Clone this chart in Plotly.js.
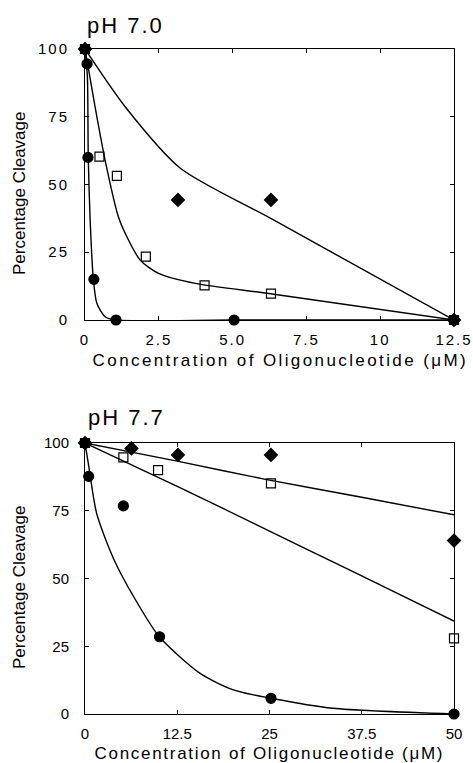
<!DOCTYPE html>
<html>
<head>
<meta charset="utf-8">
<script src="https://cdn.plot.ly/plotly-3.0.1.min.js"></script>
<style>
html,body{margin:0;padding:0;background:#fff;}
#chart{width:473px;height:763px;}
.xtick text,.ytick text{letter-spacing:2px;}
.annotation[data-index="0"] text,.annotation[data-index="1"] text{letter-spacing:2px;}
.annotation[data-index="2"] text{letter-spacing:2.4px;}
.annotation[data-index="3"] text{letter-spacing:1.7px;}
</style>
</head>
<body>
<div id="chart"></div>
<script>
// ---- pH 7.0 panel: measured points ----
var ph70CircleX = [0, 0.07, 0.1, 0.3, 1.05, 5.05, 12.5];
var ph70CircleY = [100, 94.5, 60, 15, 0, 0, 0];
var ph70SquareX = [0, 0.49, 1.08, 2.06, 4.05, 6.3, 12.5];
var ph70SquareY = [100, 60.3, 53.2, 23.4, 12.8, 9.7, 0];
var ph70DiamondX = [0, 3.15, 6.3, 12.5];
var ph70DiamondY = [100, 44.3, 44.3, 0];
// ---- pH 7.0 panel: fitted curves ----
var ph70CircleFitX = [0, 0.08, 0.11, 0.17, 0.28, 0.4, 0.68, 1.02, 5, 12.5];
var ph70CircleFitY = [100, 90, 60.3, 38, 15.5, 6.2, 1.2, 0, 0, 0];
var ph70SquareFitX = [0, 0.34, 0.68, 1.13, 1.36, 1.87, 2.49, 3.74, 6.34, 12.5];
var ph70SquareFitY = [100, 78.7, 59, 38.1, 32, 22.1, 17.2, 13.5, 9.6, 0];
var ph70DiamondFitX = [0, 1.36, 3.23, 6.34, 12.5];
var ph70DiamondFitY = [100, 78.7, 56, 37.2, 0];

// ---- pH 7.7 panel: measured points ----
var ph77CircleX = [0, 0.5, 5.2, 10.1, 25.2, 50];
var ph77CircleY = [100, 87.7, 76.8, 28.5, 5.8, 0];
var ph77SquareX = [0, 5.2, 9.9, 25.2, 50];
var ph77SquareY = [100, 94.7, 90, 85.1, 27.9];
var ph77DiamondX = [0, 6.3, 12.6, 25.2, 50];
var ph77DiamondY = [100, 98, 95.6, 95.6, 64];
// ---- pH 7.7 panel: fitted curves ----
var ph77CircleFitX = [0, 0.45, 1.58, 3.84, 6.55, 10.07, 15.6, 20.1, 25.2, 33.6, 50];
var ph77CircleFitY = [100, 92.5, 74, 57.5, 43.5, 28.5, 15, 8.9, 5.8, 2.1, 0];
var ph77SquareFitX = [0, 12.5, 25, 35.9, 50];
var ph77SquareFitY = [100, 84, 67.5, 53.1, 34.3];
var ph77DiamondFitX = [0, 12.5, 25, 37.5, 50];
var ph77DiamondFitY = [100, 93.3, 86.3, 80, 73.5];

// ---- ticks ----
var yTickVals = [0, 25, 50, 75, 100];
var yTickText = ['0', '25', '50', '75', '100'];
var x70TickVals = [0, 2.5, 5, 7.5, 10, 12.5];
var x70TickText = ['0', '2.5', '5.0', '7.5', '10', '12.5'];
var x77TickVals = [0, 12.5, 25, 37.5, 50];
var x77TickText = ['0', '12.5', '25', '37.5', '50'];

var FONT = 'Liberation Sans, Arial, Helvetica, sans-serif';

function line(x, y, xa, ya) {
  return {x: x, y: y, xaxis: xa, yaxis: ya, mode: 'lines', type: 'scatter',
    line: {color: '#000', width: 1.4, shape: 'spline', smoothing: 0.7}, cliponaxis: false, hoverinfo: 'skip', showlegend: false};
}
function pts(x, y, xa, ya, sym, size, fill) {
  return {x: x, y: y, xaxis: xa, yaxis: ya, mode: 'markers', type: 'scatter', cliponaxis: false,
    marker: {symbol: sym, size: size, color: fill, line: {color: '#000', width: 1.2}}, showlegend: false};
}

var data = [
  line(ph70CircleFitX, ph70CircleFitY, 'x', 'y'),
  line(ph70SquareFitX, ph70SquareFitY, 'x', 'y'),
  line(ph70DiamondFitX, ph70DiamondFitY, 'x', 'y'),
  pts(ph70SquareX, ph70SquareY, 'x', 'y', 'square-open', 9, '#000'),
  pts(ph70DiamondX, ph70DiamondY, 'x', 'y', 'diamond', 10, '#000'),
  pts(ph70CircleX, ph70CircleY, 'x', 'y', 'circle', 10, '#000'),
  line(ph77CircleFitX, ph77CircleFitY, 'x2', 'y2'),
  line(ph77SquareFitX, ph77SquareFitY, 'x2', 'y2'),
  line(ph77DiamondFitX, ph77DiamondFitY, 'x2', 'y2'),
  pts(ph77SquareX, ph77SquareY, 'x2', 'y2', 'square-open', 9, '#000'),
  pts(ph77DiamondX, ph77DiamondY, 'x2', 'y2', 'diamond', 10, '#000'),
  pts(ph77CircleX, ph77CircleY, 'x2', 'y2', 'circle', 10, '#000')
];

function xax(range, vals, text, anchor) {
  return {range: range, anchor: anchor, domain: [0, 1], tickvals: vals, ticktext: text,
    ticks: 'inside', ticklen: 4, tickcolor: '#000', showline: true, linecolor: '#000', linewidth: 1,
    mirror: 'ticks', showgrid: false, zeroline: false, ticklabelstandoff: 6, ticklabeloverflow: 'allow',
    tickfont: {family: FONT, size: 15, color: '#000'}};
}
function yax(dom, anchor) {
  return {range: [0, 100], anchor: anchor, domain: dom, tickvals: yTickVals, ticktext: yTickText,
    ticks: 'inside', ticklen: 4, tickcolor: '#000', showline: true, linecolor: '#000', linewidth: 1,
    mirror: 'ticks', showgrid: false, zeroline: false, ticklabelstandoff: 12, ticklabeloverflow: 'allow',
    tickfont: {family: FONT, size: 15, color: '#000'}};
}

var ann = function (text, x, y, size, xanchor, angle) {
  return {text: text, x: x, y: y, xref: 'paper', yref: 'paper', xanchor: xanchor, yanchor: 'middle',
    showarrow: false, textangle: angle || 0, font: {family: FONT, size: size, color: '#000'}};
};

var layout = {
  width: 473, height: 763,
  margin: {l: 85, r: 19, t: 49, b: 49},
  paper_bgcolor: '#fff', plot_bgcolor: '#fff',
  showlegend: false,
  xaxis: xax([0, 12.5], x70TickVals, x70TickText, 'y'),
  yaxis: yax([0.5925, 1], 'x'),
  xaxis2: xax([0, 50], x77TickVals, x77TickText, 'y2'),
  yaxis2: yax([0, 0.4075], 'x2'),
  annotations: [
    ann('pH 7.0', 0.017, 1.036, 22, 'left'),
    ann('pH 7.7', 0.020, 0.4466, 22, 'left'),
    ann('Concentration of Oligonucleotide (\u03bcM)', 0.531, 0.5323, 17, 'center'),
    ann('Concentration of Oligonucleotide (\u03bcM)', 0.501, -0.060, 17, 'center'),
    ann('Percentage Cleavage', -0.176, 0.7835, 17, 'center', -90),
    ann('Percentage Cleavage', -0.176, 0.191, 17, 'center', -90)
  ]
};

Plotly.newPlot('chart', data, layout, {staticPlot: true, displayModeBar: false});
</script>
</body>
</html>
